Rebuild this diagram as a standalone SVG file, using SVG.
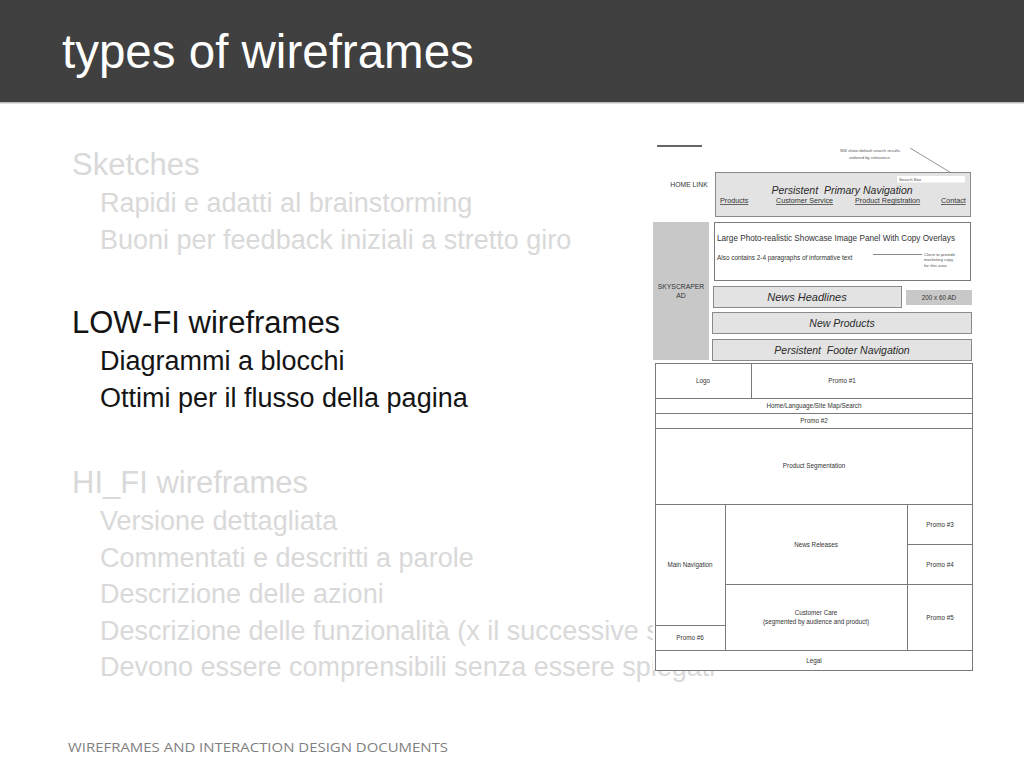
<svg xmlns="http://www.w3.org/2000/svg" width="1024" height="768" viewBox="0 0 1024 768">
<style>
.ttl{font-family:"Liberation Sans",Arial,sans-serif;font-size:47.5px;fill:#ffffff}
.h1{font-family:"Liberation Sans",Arial,sans-serif;font-size:31px}
.h2{font-family:"Liberation Sans",Arial,sans-serif;font-size:27px}
.dim{fill:#d9d9d9}
.dark{fill:#141414}
.ft{font-family:"Open Sans","Liberation Sans",sans-serif;font-size:13px;fill:#7f7f7f}
.wf{font-family:"Liberation Sans",Arial,sans-serif;fill:#333333}
.s{font-size:6.3px}
.xs{font-size:4.3px;fill:#555555}
.it{font-style:italic;fill:#2a2a2a}
.box{fill:#e3e3e3;stroke:#8a8a8a;stroke-width:1}
.gray{fill:#c8c8c8}
.cell{fill:#ffffff;stroke:#7a7a7a;stroke-width:1}
.ln{stroke:#7a7a7a;stroke-width:1;fill:none}
</style>
<rect x="0" y="0" width="1024" height="768" fill="#ffffff"/>
<g id="header">
<rect x="0" y="0" width="1024" height="102" fill="#404040"/>
<rect x="0" y="102" width="1024" height="1.5" fill="#bdbdbd"/>
<text class="ttl" x="62" y="68">types of wireframes</text>
</g>
<g id="bullets">
<text class="h1 dim" x="72" y="175">Sketches</text>
<text class="h2 dim" x="100" y="212">Rapidi e adatti al brainstorming</text>
<text class="h2 dim" x="100" y="248.5">Buoni per feedback iniziali a stretto giro</text>
<text class="h1 dark" x="72" y="333">LOW-FI wireframes</text>
<text class="h2 dark" x="100" y="370">Diagrammi a blocchi</text>
<text class="h2 dark" x="100" y="406.5">Ottimi per il flusso della pagina</text>
<text class="h1 dim" x="72" y="493">HI_FI wireframes</text>
<text class="h2 dim" x="100" y="530">Versione dettagliata</text>
<text class="h2 dim" x="100" y="566.5">Commentati e descritti a parole</text>
<text class="h2 dim" x="100" y="603">Descrizione delle azioni</text>
<text class="h2 dim" x="100" y="639.5">Descrizione delle funzionalità (x il successive s</text>
<text class="h2 dim" x="100" y="676">Devono essere comprensibili senza essere spiegati</text>
</g>
<g id="wireframe">
<rect x="653" y="135" width="322" height="535" fill="#ffffff"/>
<g id="top-mockup">
<line x1="657" y1="146" x2="702" y2="146" stroke="#333333" stroke-width="1.5"/>
<text class="wf xs" x="870" y="152" text-anchor="middle">Will show default search results</text>
<text class="wf xs" x="870" y="159" text-anchor="middle">ordered by relevance.</text>
<line x1="910" y1="148" x2="963" y2="180" stroke="#666666" stroke-width="0.7"/>
<text class="wf" x="689" y="186.5" font-size="6.8" text-anchor="middle">HOME LINK</text>
<rect class="box" x="715.5" y="172.5" width="255" height="44"/>
<rect x="897" y="176" width="68" height="6.5" fill="#ffffff"/>
<text class="wf xs" x="899" y="181">Search Box</text>
<text class="wf it" x="842" y="194" font-size="10.5" text-anchor="middle" style="white-space:pre">Persistent  Primary Navigation</text>
<g class="wf" font-size="7.2" text-decoration="underline">
<text x="720" y="203">Products</text>
<text x="776" y="203">Customer Service</text>
<text x="855" y="203">Product Registration</text>
<text x="941" y="203">Contact</text>
</g>
<rect class="gray" x="653" y="222" width="56" height="138"/>
<text class="wf" x="681" y="289" font-size="6.8" text-anchor="middle">SKYSCRAPER</text>
<text class="wf" x="681" y="298" font-size="6.8" text-anchor="middle">AD</text>
<rect class="cell" x="714.5" y="222.5" width="256" height="58"/>
<text class="wf" x="717" y="241" font-size="8.2" fill="#222222">Large Photo-realistic Showcase Image Panel With Copy Overlays</text>
<text class="wf" x="717" y="259.5" font-size="6.4" fill="#222222">Also contains 2-4 paragraphs of informative text</text>
<line x1="873" y1="254.5" x2="922" y2="254.5" stroke="#555555" stroke-width="0.7"/>
<text class="wf xs" x="924" y="255.5">Client to provide</text>
<text class="wf xs" x="924" y="261">marketing copy</text>
<text class="wf xs" x="924" y="266.5">for this area</text>
<rect class="box" x="713.5" y="286.5" width="188" height="21"/>
<text class="wf it" x="807" y="301" font-size="11" text-anchor="middle">News Headlines</text>
<rect class="gray" x="906" y="290" width="66" height="15"/>
<text class="wf" x="939" y="299.5" font-size="6.3" text-anchor="middle">200 x 60 AD</text>
<rect class="box" x="712.5" y="312.5" width="259" height="21"/>
<text class="wf it" x="842" y="327" font-size="10.5" text-anchor="middle">New Products</text>
<rect class="box" x="712.5" y="339.5" width="259" height="21"/>
<text class="wf it" x="842" y="353.5" font-size="10.5" text-anchor="middle" style="white-space:pre">Persistent  Footer Navigation</text>
</g>
<g id="block-diagram">
<rect class="cell" x="655.5" y="363.5" width="317" height="307"/>
<line class="ln" x1="751.5" y1="363.5" x2="751.5" y2="398.5"/>
<line class="ln" x1="655.5" y1="398.5" x2="972.5" y2="398.5"/>
<line class="ln" x1="655.5" y1="413.5" x2="972.5" y2="413.5"/>
<line class="ln" x1="655.5" y1="428.5" x2="972.5" y2="428.5"/>
<line class="ln" x1="655.5" y1="504.5" x2="972.5" y2="504.5"/>
<line class="ln" x1="725.5" y1="504.5" x2="725.5" y2="650.5"/>
<line class="ln" x1="907.5" y1="504.5" x2="907.5" y2="650.5"/>
<line class="ln" x1="907.5" y1="544.5" x2="972.5" y2="544.5"/>
<line class="ln" x1="725.5" y1="584.5" x2="972.5" y2="584.5"/>
<line class="ln" x1="655.5" y1="625.5" x2="725.5" y2="625.5"/>
<line class="ln" x1="655.5" y1="650.5" x2="972.5" y2="650.5"/>
<g class="wf s" text-anchor="middle">
<text x="703" y="383">Logo</text>
<text x="842" y="383">Promo #1</text>
<text x="814" y="408">Home/Language/Site Map/Search</text>
<text x="814" y="423">Promo #2</text>
<text x="814" y="468">Product Segmentation</text>
<text x="940" y="527">Promo #3</text>
<text x="816" y="546.5">News Releases</text>
<text x="940" y="566.5">Promo #4</text>
<text x="690" y="567">Main Navigation</text>
<text x="816" y="615">Customer Care</text>
<text x="816" y="623.5">(segmented by audience and product)</text>
<text x="940" y="620">Promo #5</text>
<text x="690" y="640">Promo #6</text>
<text x="814" y="662.5">Legal</text>
</g>
</g>
</g>
<g id="footer">
<text class="ft" x="68" y="752" textLength="380" lengthAdjust="spacingAndGlyphs">WIREFRAMES AND INTERACTION DESIGN DOCUMENTS</text>
</g>
</svg>
